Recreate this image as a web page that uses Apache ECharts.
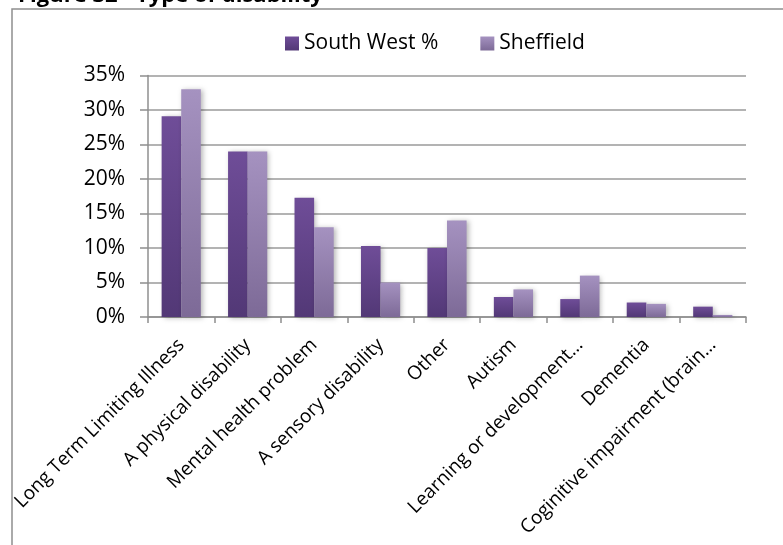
<!DOCTYPE html>
<html>
<head>
<meta charset="utf-8">
<script src="https://cdn.jsdelivr.net/npm/echarts@6/dist/echarts.min.js"></script>
<style>
  html, body { margin: 0; padding: 0; background: #fff; }
  #chart { width: 783px; height: 545px; }
</style>
</head>
<body>
<div id="chart"></div>
<script>
// Type of disability: share of respondents, South West vs Sheffield (%)
const categories = [
  'Long Term Limiting Illness',
  'A physical disability',
  'Mental health problem',
  'A sensory disability',
  'Other',
  'Autism',
  'Learning or development\u2026',
  'Dementia',
  'Coginitive impairment (brain\u2026'
];
const seriesNames = ['South West %', 'Sheffield'];
const southWest = [29.1, 24.0, 17.3, 10.3, 10.0, 2.9, 2.6, 2.1, 1.5];
const sheffield = [33.0, 24.0, 13.0, 5.0, 14.0, 4.0, 6.0, 1.9, 0.3];
const yTicks = { min: 0, max: 35, interval: 5 };

const FONT = 'Open Sans';

function grad(top, bottom) {
  return new echarts.graphic.LinearGradient(0, 0, 0, 1, [
    { offset: 0, color: top },
    { offset: 1, color: bottom }
  ]);
}

const chart = echarts.init(document.getElementById('chart'), null, { renderer: 'canvas' });

chart.setOption({
  animation: false,
  backgroundColor: '#ffffff',
  textStyle: { fontFamily: FONT },
  graphic: [
    {
      type: 'rect',
      shape: { x: 12, y: 9, width: 900, height: 700 },
      style: { fill: 'none', stroke: '#8f8f8f', lineWidth: 1.5 },
      silent: true,
      z: -1
    },
    {
      type: 'text',
      x: 18,
      y: 7,
      style: {
        text: 'Figure 32 - Type of disability',
        font: 'bold 22px "' + FONT + '"',
        fill: '#000',
        verticalAlign: 'bottom'
      },
      silent: true
    }
  ],
  legend: {
    data: seriesNames,
    left: 285,
    top: 33,
    icon: 'rect',
    itemWidth: 14,
    itemHeight: 14,
    itemGap: 42,
    textStyle: { fontFamily: FONT, fontSize: 21, color: '#000' },
    padding: 0
  },
  grid: {
    left: 148,
    right: 37,
    top: 75.5,
    bottom: 228,
    containLabel: false
  },
  xAxis: {
    type: 'category',
    data: categories,
    axisLine: { show: true, lineStyle: { color: '#8f8f8f', width: 1.5 } },
    axisTick: { show: true, length: 6, alignWithLabel: false, lineStyle: { color: '#8f8f8f', width: 1.5 } },
    axisLabel: {
      interval: 0,
      rotate: 45,
      margin: 25,
      fontFamily: FONT,
      fontSize: 19,
      color: '#000'
    }
  },
  yAxis: {
    type: 'value',
    min: yTicks.min,
    max: yTicks.max,
    interval: yTicks.interval,
    axisLine: { show: true, lineStyle: { color: '#8f8f8f', width: 1.5 } },
    axisTick: { show: true, length: 8, lineStyle: { color: '#8f8f8f', width: 1.5 } },
    axisLabel: {
      formatter: '{value}%',
      margin: 23,
      fontFamily: FONT,
      fontSize: 21,
      color: '#000'
    },
    splitLine: { show: true, lineStyle: { color: '#9a9a9a', width: 1.5 } }
  },
  series: [
    {
      name: seriesNames[0],
      type: 'bar',
      data: southWest,
      barGap: '0%',
      barCategoryGap: '41%',
      itemStyle: {
        color: grad('#6f4d98', '#523876'),
        shadowColor: 'rgba(0,0,0,0.28)',
        shadowBlur: 5,
        shadowOffsetX: 2,
        shadowOffsetY: 1
      }
    },
    {
      name: seriesNames[1],
      type: 'bar',
      data: sheffield,
      barGap: '0%',
      barCategoryGap: '41%',
      itemStyle: {
        color: grad('#a592c0', '#7d6a97'),
        shadowColor: 'rgba(0,0,0,0.28)',
        shadowBlur: 5,
        shadowOffsetX: 2,
        shadowOffsetY: 1
      }
    }
  ]
});
</script>
</body>
</html>
